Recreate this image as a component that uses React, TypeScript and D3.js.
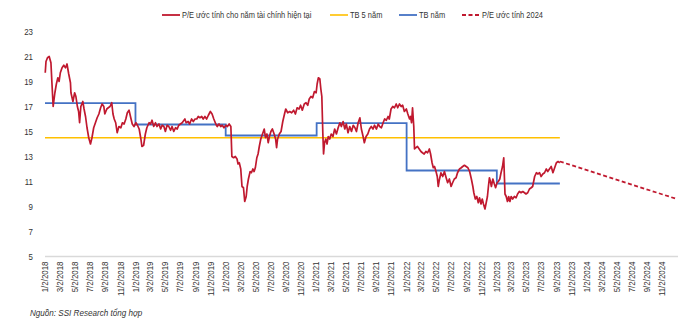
import React from "react";
import * as d3 from "d3";

// ---------- DATA ----------
const peActual: [string, number][] = [
  ["2018-01-02", 19.7], ["2018-01-05", 20.6], ["2018-01-11", 20.9], ["2018-01-18", 21.0], ["2018-01-25", 20.5],
  ["2018-01-29", 18.9], ["2018-02-03", 17.0], ["2018-02-10", 18.1], ["2018-02-16", 18.8], ["2018-02-22", 19.3],
  ["2018-02-27", 19.0], ["2018-03-04", 19.7], ["2018-03-11", 20.1], ["2018-03-18", 20.3], ["2018-03-25", 20.1],
  ["2018-03-31", 20.4], ["2018-04-07", 19.6], ["2018-04-14", 18.9], ["2018-04-16", 18.1], ["2018-04-24", 17.4],
  ["2018-05-01", 18.1], ["2018-05-06", 17.8], ["2018-05-12", 17.0], ["2018-05-17", 16.6], ["2018-05-21", 15.7],
  ["2018-05-26", 17.0], ["2018-06-03", 17.4], ["2018-06-08", 16.8], ["2018-06-14", 16.2], ["2018-06-20", 15.3],
  ["2018-06-27", 14.5], ["2018-07-04", 14.0], ["2018-07-10", 14.5], ["2018-07-17", 15.3], ["2018-07-24", 15.7],
  ["2018-07-31", 16.1], ["2018-08-07", 16.4], ["2018-08-14", 16.9], ["2018-08-20", 17.2], ["2018-08-27", 17.0],
  ["2018-08-31", 16.4], ["2018-09-08", 16.8], ["2018-09-14", 16.9], ["2018-09-21", 17.0], ["2018-09-28", 17.3],
  ["2018-10-03", 16.4], ["2018-10-08", 16.0], ["2018-10-14", 15.7], ["2018-10-20", 14.9], ["2018-10-27", 15.4],
  ["2018-11-04", 15.3], ["2018-11-10", 15.7], ["2018-11-17", 15.6], ["2018-11-24", 16.0], ["2018-11-30", 16.5],
  ["2018-12-07", 16.7], ["2018-12-14", 16.1], ["2018-12-20", 15.6], ["2018-12-27", 15.4], ["2019-01-04", 15.7],
  ["2019-01-10", 15.5], ["2019-01-17", 15.2], ["2019-01-24", 14.4], ["2019-01-28", 13.8], ["2019-02-04", 13.9],
  ["2019-02-11", 14.8], ["2019-02-17", 15.3], ["2019-02-26", 15.7], ["2019-03-04", 15.6], ["2019-03-10", 15.9],
  ["2019-03-17", 15.4], ["2019-03-24", 15.7], ["2019-03-30", 15.4], ["2019-04-07", 15.6], ["2019-04-14", 15.2],
  ["2019-04-20", 15.5], ["2019-04-27", 15.4], ["2019-05-03", 15.0], ["2019-05-10", 15.5], ["2019-05-17", 15.4],
  ["2019-05-24", 15.1], ["2019-05-30", 15.4], ["2019-06-06", 15.0], ["2019-06-13", 15.3], ["2019-06-20", 15.2],
  ["2019-06-26", 15.5], ["2019-07-03", 15.6], ["2019-07-10", 15.7], ["2019-07-21", 16.0], ["2019-07-26", 15.7],
  ["2019-08-03", 15.8], ["2019-08-09", 15.6], ["2019-08-17", 16.0], ["2019-08-24", 15.8], ["2019-08-31", 16.0],
  ["2019-09-07", 16.0], ["2019-09-13", 16.2], ["2019-09-20", 16.1], ["2019-09-27", 16.2], ["2019-10-03", 16.0],
  ["2019-10-10", 16.2], ["2019-10-17", 16.0], ["2019-10-24", 16.3], ["2019-11-01", 16.6], ["2019-11-08", 16.4],
  ["2019-11-15", 16.0], ["2019-11-23", 15.6], ["2019-11-29", 15.4], ["2019-12-06", 15.6], ["2019-12-13", 15.4],
  ["2019-12-19", 15.5], ["2019-12-26", 15.3], ["2020-01-03", 15.5], ["2020-01-09", 15.4], ["2020-01-16", 15.6],
  ["2020-01-23", 15.4], ["2020-01-27", 13.0], ["2020-02-03", 12.9], ["2020-02-10", 13.0], ["2020-02-17", 12.8],
  ["2020-02-21", 12.4], ["2020-02-26", 12.5], ["2020-03-03", 12.0], ["2020-03-08", 10.6], ["2020-03-14", 10.5],
  ["2020-03-19", 9.4], ["2020-03-25", 9.8], ["2020-03-29", 10.6], ["2020-04-03", 11.2], ["2020-04-10", 11.8],
  ["2020-04-15", 11.7], ["2020-04-21", 12.0], ["2020-04-26", 11.8], ["2020-05-01", 12.1], ["2020-05-07", 12.9],
  ["2020-05-12", 13.2], ["2020-05-17", 13.8], ["2020-05-23", 14.4], ["2020-05-30", 14.8], ["2020-06-06", 15.2],
  ["2020-06-11", 14.5], ["2020-06-17", 14.8], ["2020-06-22", 14.1], ["2020-06-27", 14.6], ["2020-07-03", 15.0],
  ["2020-07-09", 15.2], ["2020-07-16", 14.8], ["2020-07-22", 14.4], ["2020-07-26", 13.7], ["2020-07-30", 14.4],
  ["2020-08-06", 14.8], ["2020-08-13", 15.0], ["2020-08-20", 15.8], ["2020-08-27", 16.4], ["2020-09-01", 16.8],
  ["2020-09-09", 16.5], ["2020-09-17", 16.6], ["2020-09-25", 16.5], ["2020-10-03", 16.7], ["2020-10-10", 16.4],
  ["2020-10-17", 16.9], ["2020-10-25", 16.8], ["2020-10-31", 17.1], ["2020-11-07", 16.7], ["2020-11-15", 17.2],
  ["2020-11-22", 17.3], ["2020-11-29", 17.1], ["2020-12-05", 17.6], ["2020-12-12", 17.8], ["2020-12-19", 17.7],
  ["2020-12-26", 18.2], ["2021-01-02", 18.1], ["2021-01-06", 18.8], ["2021-01-11", 19.3], ["2021-01-17", 19.2],
  ["2021-01-21", 18.4], ["2021-01-25", 17.8], ["2021-01-29", 14.9], ["2021-02-01", 13.2], ["2021-02-05", 14.1],
  ["2021-02-10", 14.4], ["2021-02-15", 14.0], ["2021-02-20", 14.6], ["2021-02-26", 14.4], ["2021-03-04", 14.8],
  ["2021-03-11", 14.6], ["2021-03-18", 15.2], ["2021-03-25", 14.8], ["2021-04-01", 15.3], ["2021-04-08", 15.7],
  ["2021-04-14", 15.4], ["2021-04-21", 15.8], ["2021-04-28", 15.2], ["2021-05-04", 15.6], ["2021-05-11", 14.9],
  ["2021-05-18", 15.4], ["2021-05-25", 15.0], ["2021-06-01", 15.5], ["2021-06-08", 15.3], ["2021-06-14", 15.0],
  ["2021-06-21", 15.7], ["2021-06-28", 16.1], ["2021-07-04", 15.2], ["2021-07-11", 14.6], ["2021-07-16", 14.1],
  ["2021-07-23", 14.6], ["2021-07-30", 14.8], ["2021-08-06", 15.2], ["2021-08-13", 15.4], ["2021-08-20", 15.2],
  ["2021-08-26", 15.5], ["2021-09-03", 15.2], ["2021-09-10", 15.6], ["2021-09-16", 15.4], ["2021-09-23", 15.3],
  ["2021-09-30", 15.7], ["2021-10-06", 16.0], ["2021-10-13", 15.9], ["2021-10-20", 16.2], ["2021-10-25", 16.0],
  ["2021-11-01", 16.8], ["2021-11-08", 17.0], ["2021-11-15", 16.9], ["2021-11-22", 17.2], ["2021-11-28", 16.9],
  ["2021-12-05", 17.2], ["2021-12-12", 17.0], ["2021-12-18", 17.1], ["2021-12-25", 16.6], ["2022-01-02", 16.8],
  ["2022-01-08", 16.4], ["2022-01-15", 16.0], ["2022-01-19", 16.2], ["2022-01-23", 15.7], ["2022-01-27", 16.9],
  ["2022-02-01", 15.4], ["2022-02-04", 13.6], ["2022-02-09", 13.7], ["2022-02-16", 13.8], ["2022-02-23", 13.6],
  ["2022-03-02", 13.4], ["2022-03-08", 13.3], ["2022-03-15", 13.2], ["2022-03-22", 13.4], ["2022-03-29", 13.3],
  ["2022-04-05", 13.6], ["2022-04-10", 13.2], ["2022-04-16", 12.5], ["2022-04-21", 12.1], ["2022-04-26", 12.2],
  ["2022-05-02", 11.8], ["2022-05-07", 11.4], ["2022-05-11", 10.6], ["2022-05-15", 11.1], ["2022-05-22", 11.7],
  ["2022-05-29", 11.4], ["2022-06-05", 11.8], ["2022-06-12", 11.3], ["2022-06-18", 10.9], ["2022-06-25", 11.2],
  ["2022-07-02", 10.6], ["2022-07-08", 10.9], ["2022-07-15", 11.2], ["2022-07-22", 11.3], ["2022-07-28", 11.7],
  ["2022-08-05", 12.0], ["2022-08-12", 12.1], ["2022-08-18", 12.2], ["2022-08-25", 12.3], ["2022-09-01", 12.2],
  ["2022-09-08", 12.1], ["2022-09-15", 11.8], ["2022-09-22", 11.2], ["2022-09-28", 10.6], ["2022-10-02", 10.1],
  ["2022-10-08", 9.6], ["2022-10-14", 9.8], ["2022-10-20", 9.3], ["2022-10-25", 9.7], ["2022-10-31", 9.2],
  ["2022-11-05", 9.6], ["2022-11-10", 9.2], ["2022-11-16", 8.8], ["2022-11-21", 9.3], ["2022-11-26", 9.8],
  ["2022-11-30", 10.6], ["2022-12-04", 11.3], ["2022-12-08", 11.0], ["2022-12-12", 10.6], ["2022-12-18", 11.2],
  ["2022-12-24", 10.8], ["2022-12-29", 10.5], ["2023-01-04", 10.9], ["2023-01-09", 11.0], ["2023-01-15", 11.2],
  ["2023-01-20", 11.7], ["2023-01-26", 12.2], ["2023-01-31", 12.9], ["2023-02-03", 11.2], ["2023-02-05", 10.0],
  ["2023-02-10", 9.8], ["2023-02-15", 9.4], ["2023-02-20", 9.8], ["2023-02-25", 9.4], ["2023-03-02", 9.8],
  ["2023-03-08", 9.6], ["2023-03-15", 9.8], ["2023-03-22", 9.7], ["2023-03-28", 10.0], ["2023-04-04", 10.2],
  ["2023-04-11", 10.1], ["2023-04-18", 10.2], ["2023-04-25", 10.1], ["2023-05-01", 10.0], ["2023-05-08", 10.1],
  ["2023-05-15", 10.4], ["2023-05-22", 10.5], ["2023-05-28", 10.6], ["2023-06-05", 11.4], ["2023-06-12", 11.7],
  ["2023-06-18", 11.6], ["2023-06-25", 11.7], ["2023-07-01", 11.4], ["2023-07-08", 11.6], ["2023-07-15", 11.7],
  ["2023-07-22", 12.0], ["2023-07-28", 11.8], ["2023-08-04", 12.0], ["2023-08-11", 12.2], ["2023-08-18", 11.7],
  ["2023-08-25", 12.1], ["2023-09-01", 12.5], ["2023-09-08", 12.6], ["2023-09-15", 12.5],
];

const peForecast2024: [string, number][] = [
  ["2023-09-15", 12.6],
  ["2024-12-31", 9.6],
];

const tbYearStarts = ["2018-01-01", "2019-01-02", "2020-01-02", "2021-01-04", "2022-01-03", "2023-01-03"];
const tbYearValues = [17.27, 15.56, 14.68, 15.67, 11.88, 10.84];
const tbYearEnd = "2023-09-15";

const tb5Value = 14.5;
const tb5Range = ["2018-01-01", "2023-09-15"];

const yTicks = [5, 7, 9, 11, 13, 15, 17, 19, 21, 23];
const tickYears = [2018, 2019, 2020, 2021, 2022, 2023, 2024];
const tickMonths = [1, 3, 5, 7, 9, 11];

const legendLabels = ["P/E ước tính cho năm tài chính hiện tại", "TB 5 năm", "TB năm", "P/E ước tính 2024"];
const sourceText = "Nguồn: SSI Research tổng hợp";

// ---------- STYLE ----------
const RED = "#c0192f";
const BLUE = "#4472c4";
const YELLOW = "#ffc000";
const TEXT = "#333333";
const FONT = "'Liberation Sans', Arial, sans-serif";

const W = 690;
const H = 323;

type NTProps = {
  x: number;
  y: number;
  sx: number;
  rotate?: number;
  anchor?: string;
  size?: number;
  italic?: boolean;
  children: React.ReactNode;
};

function NarrowText({ x, y, sx, rotate = 0, anchor = "start", size = 9, italic, children }: NTProps) {
  return (
    <text
      transform={`translate(${x},${y}) rotate(${rotate}) scale(${sx},1)`}
      textAnchor={anchor}
      dy="0.35em"
      fontSize={size}
      fontStyle={italic ? "italic" : undefined}
      fill={TEXT}
    >
      {children}
    </text>
  );
}

export default function App() {
  const parse = d3.timeParse("%Y-%m-%d");
  const fmt = d3.timeFormat("%-m/%-d/%Y");

  const x = d3
    .scaleTime()
    .domain([parse("2018-01-01")!, parse("2025-01-05")!])
    .range([45, 678]);
  const y = d3.scaleLinear().domain([5, 23]).range([256.5, 31.5]);

  const line = d3
    .line<[Date, number]>()
    .x((d) => x(d[0]))
    .y((d) => y(d[1]));

  const redPts: [Date, number][] = peActual.map(([d, v]) => [parse(d)!, v]);
  const fcPts: [Date, number][] = peForecast2024.map(([d, v]) => [parse(d)!, v]);

  const bluePts: [Date, number][] = tbYearStarts.map((d, i) => [parse(d)!, tbYearValues[i]]);
  bluePts.push([parse(tbYearEnd)!, tbYearValues[tbYearValues.length - 1]]);
  const stepLine = d3
    .line<[Date, number]>()
    .x((d) => x(d[0]))
    .y((d) => y(d[1]))
    .curve(d3.curveStepAfter);

  const yellowPts: [Date, number][] = tb5Range.map((d) => [parse(d)!, tb5Value]);

  const tickDates: Date[] = [];
  tickYears.forEach((yr) => tickMonths.forEach((m) => tickDates.push(new Date(yr, m - 1, 2))));

  const legendItems = [
    { label: legendLabels[0], color: RED, dash: undefined as string | undefined, lx: 162, w: 1.8 },
    { label: legendLabels[1], color: YELLOW, dash: undefined, lx: 330, w: 1.6 },
    { label: legendLabels[2], color: BLUE, dash: undefined, lx: 399, w: 1.8 },
    { label: legendLabels[3], color: RED, dash: "4,2.5", lx: 462, w: 1.8 },
  ];

  return (
    <svg
      width={W}
      height={H}
      viewBox={`0 0 ${W} ${H}`}
      style={{ position: "absolute", left: 0, top: 0, background: "#fff" }}
      fontFamily={FONT}
    >
      {/* legend */}
      {legendItems.map((it, i) => (
        <g key={i}>
          <line
            x1={it.lx}
            x2={it.lx + 18}
            y1={15}
            y2={15}
            stroke={it.color}
            strokeWidth={it.w}
            strokeDasharray={it.dash}
          />
          <NarrowText x={it.lx + 20} y={15} sx={0.83}>
            {it.label}
          </NarrowText>
        </g>
      ))}

      {/* y axis labels */}
      {yTicks.map((t) => (
        <NarrowText key={t} x={33} y={y(t)} sx={0.88} anchor="end">
          {t}
        </NarrowText>
      ))}

      {/* baseline */}
      <line x1={x.range()[0]} x2={x.range()[1]} y1={y(5)} y2={y(5)} stroke="#d9d9d9" strokeWidth={1.5} />

      {/* x tick labels */}
      {tickDates.map((d, i) => (
        <NarrowText key={i} x={x(d)} y={y(5) + 5} sx={0.88} rotate={-90} anchor="end">
          {fmt(d)}
        </NarrowText>
      ))}

      {/* series */}
      <path d={line(yellowPts)!} fill="none" stroke={YELLOW} strokeWidth={1.6} />
      <path d={stepLine(bluePts)!} fill="none" stroke={BLUE} strokeWidth={1.8} />
      <path d={line(redPts)!} fill="none" stroke={RED} strokeWidth={1.7} strokeLinejoin="round" />
      <path d={line(fcPts)!} fill="none" stroke={RED} strokeWidth={1.8} strokeDasharray="4,2.5" />

      {/* source */}
      <NarrowText x={30} y={313} sx={0.9} italic>
        {sourceText}
      </NarrowText>
    </svg>
  );
}
